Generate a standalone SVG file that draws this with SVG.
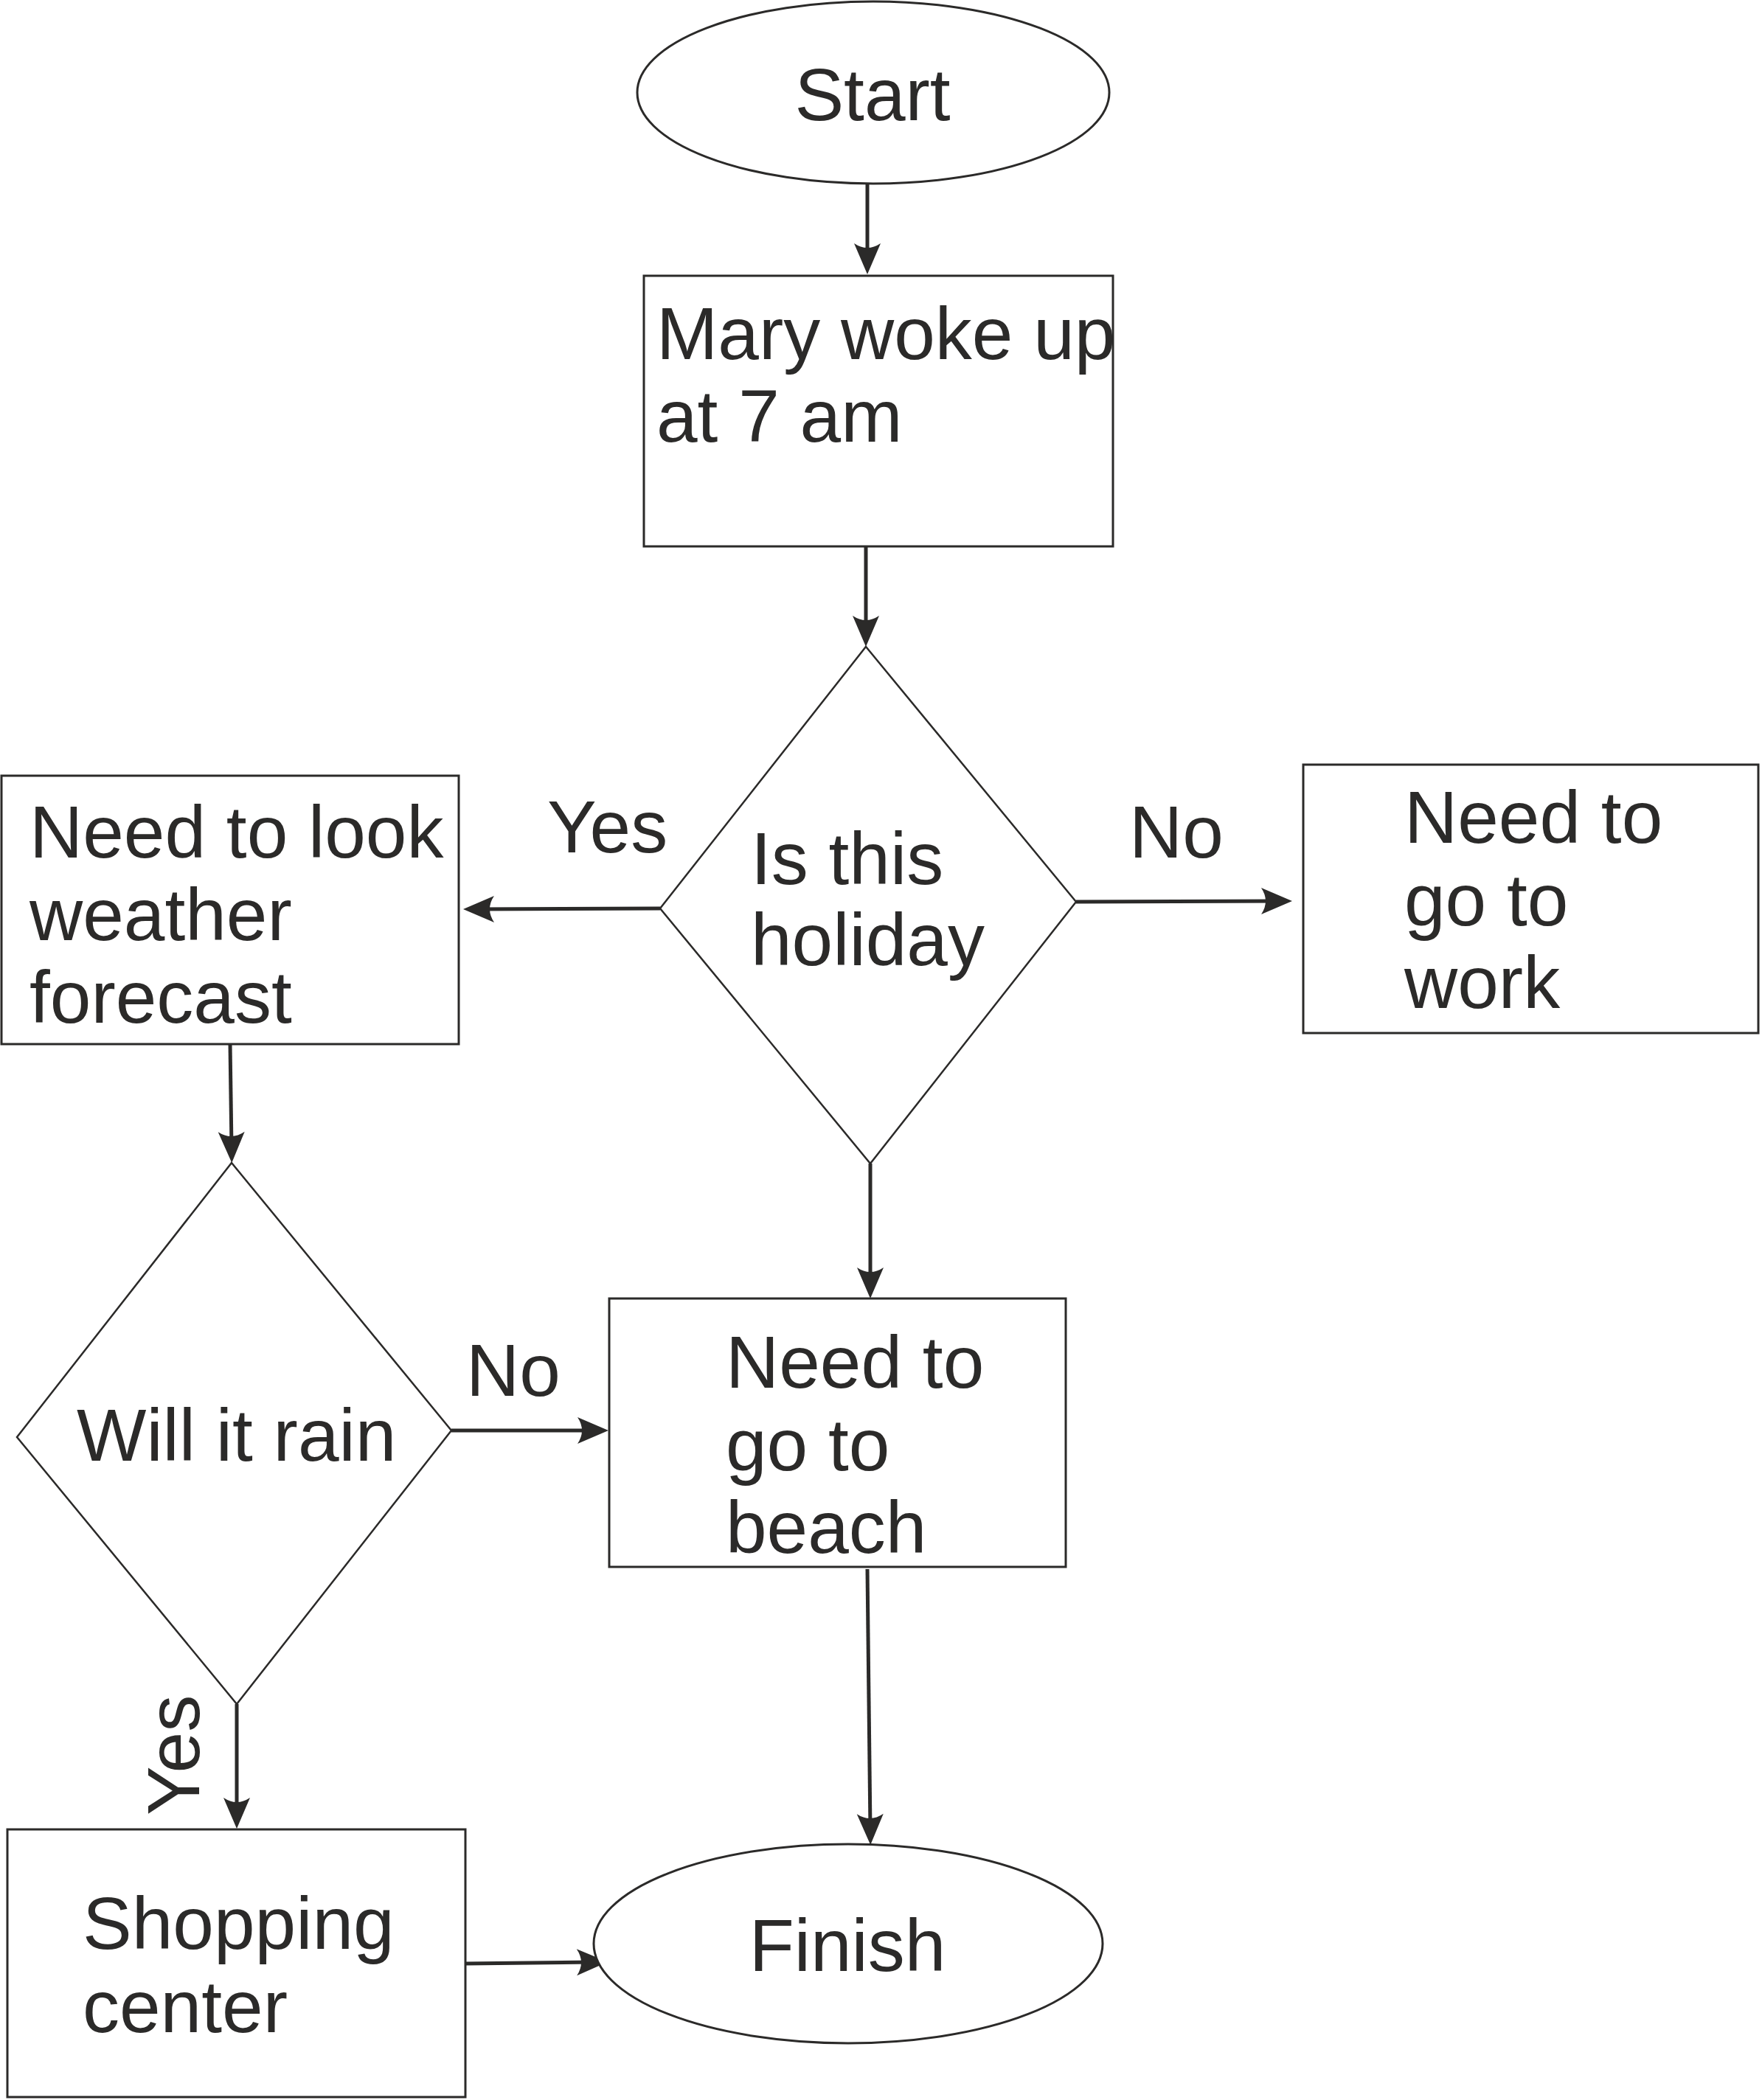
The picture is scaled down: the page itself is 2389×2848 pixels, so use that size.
<svg xmlns="http://www.w3.org/2000/svg" width="2389" height="2848" viewBox="0 0 2389 2848">
<style>
.shape{fill:#ffffff;stroke:#2b2a29;stroke-width:3}
.dia{fill:#ffffff;stroke:#2b2a29;stroke-width:2.5}
.conn{fill:none;stroke:#2b2a29;stroke-width:5}
text{font-family:"Liberation Sans",Arial,sans-serif;font-size:100px;fill:#2b2a29}
</style>
<defs>
<marker id="ah" markerUnits="userSpaceOnUse" viewBox="-44 -20 46 40" markerWidth="46" markerHeight="40" refX="-20" refY="0" orient="auto">
<path d="M0,0 L-42,-18 Q-30,0 -42,18 Z" fill="#2b2a29"/>
</marker>
</defs>
<rect width="2389" height="2848" fill="#ffffff"/>
<g id="connectors">
<path class="conn" d="M1176,249 L1176,352" marker-end="url(#ah)"/>
<path class="conn" d="M1174,741 L1174,857" marker-end="url(#ah)"/>
<path class="conn" d="M895,1232 L648,1233" marker-end="url(#ah)"/>
<path class="conn" d="M1459,1223 L1732,1222" marker-end="url(#ah)"/>
<path class="conn" d="M312,1416 L314,1557" marker-end="url(#ah)"/>
<path class="conn" d="M1180,1578 L1180,1741" marker-end="url(#ah)"/>
<path class="conn" d="M612,1940 L805,1940" marker-end="url(#ah)"/>
<path class="conn" d="M321,2311 L321,2460" marker-end="url(#ah)"/>
<path class="conn" d="M1176,2128 L1180,2482" marker-end="url(#ah)"/>
<path class="conn" d="M631,2663 L804,2661" marker-end="url(#ah)"/>
<text x="742" y="1156">Yes</text>
<text x="1531" y="1163">No</text>
<text x="632" y="1893">No</text>
<text transform="translate(270,2462) rotate(-90)" x="0" y="0">Yes</text>
</g>
<g id="start">
<ellipse class="shape" cx="1184" cy="125.5" rx="320" ry="123.5"/>
<text x="1183" y="163" text-anchor="middle">Start</text>
</g>
<g id="wake">
<rect class="shape" x="873" y="374" width="636" height="367"/>
<text x="890" y="487">Mary woke up</text>
<text x="890" y="599">at 7 am</text>
</g>
<g id="holiday">
<polygon class="dia" points="1174,877 1459,1223 1180,1578 895,1232"/>
<text x="1018" y="1199">Is this</text>
<text x="1018" y="1309">holiday</text>
</g>
<g id="forecast">
<rect class="shape" x="2" y="1052" width="620" height="364"/>
<text x="40" y="1163">Need to look</text>
<text x="40" y="1275">weather</text>
<text x="40" y="1387">forecast</text>
</g>
<g id="work">
<rect class="shape" x="1767" y="1037" width="617" height="364"/>
<text x="1904" y="1143">Need to</text>
<text x="1904" y="1255">go to</text>
<text x="1904" y="1367">work</text>
</g>
<g id="rain">
<polygon class="dia" points="314,1577 612,1940 321,2311 23,1949"/>
<text x="104" y="1981">Will it rain</text>
</g>
<g id="beach">
<rect class="shape" x="826" y="1761" width="619" height="364"/>
<text x="984" y="1882">Need to</text>
<text x="984" y="1994">go to</text>
<text x="984" y="2106">beach</text>
</g>
<g id="shopping">
<rect class="shape" x="10" y="2481" width="621" height="363"/>
<text x="112" y="2643">Shopping</text>
<text x="112" y="2756">center</text>
</g>
<g id="finish">
<ellipse class="shape" cx="1150" cy="2636" rx="345" ry="135"/>
<text x="1149" y="2673" text-anchor="middle">Finish</text>
</g>
</svg>
